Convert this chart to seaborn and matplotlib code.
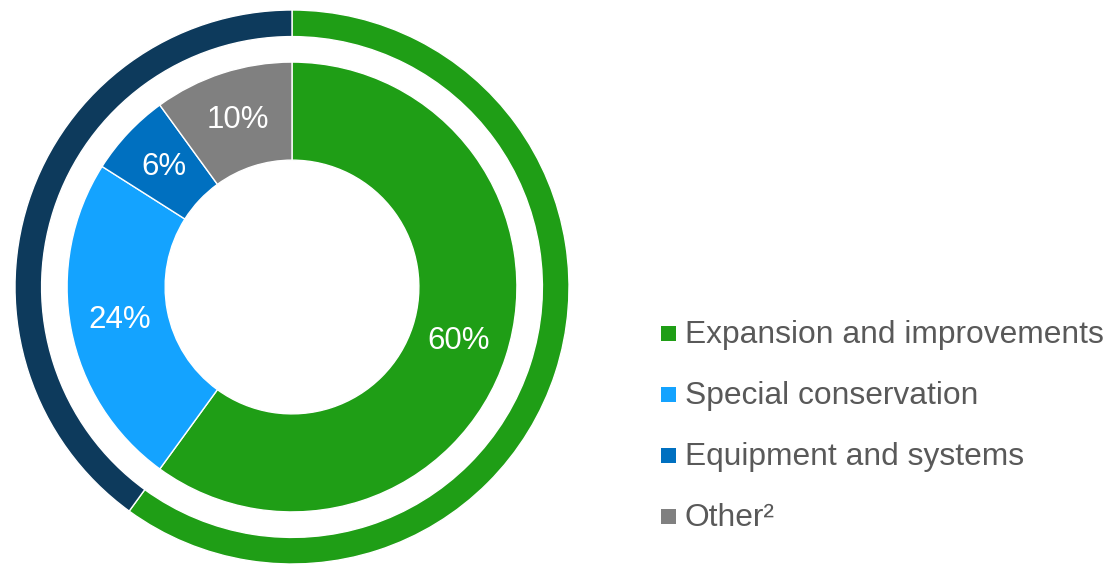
import matplotlib
matplotlib.use("Agg")
import matplotlib.pyplot as plt
from matplotlib.patches import Rectangle
import seaborn as sns

# Spending breakdown (inner ring) and the share it represents (outer ring)
categories = ["Expansion and improvements", "Special conservation",
              "Equipment and systems", "Other\u00b2"]
shares = [60, 24, 6, 10]
cat_colors = ["#1f9e16", "#14a3ff", "#0070c0", "#808080"]

outer_shares = [60, 40]
outer_colors = ["#1f9e16", "#0d3a5c"]

sns.set_theme(style="white")
plt.rcParams["font.family"] = ["Liberation Sans", "DejaVu Sans"]

W, H = 1110, 564
fig = plt.figure(figsize=(W / 100, H / 100), dpi=100)
fig.patch.set_facecolor("white")

# Pie axes: centre at (292, 287) px from top-left, radius 277 px
cx, cy, R = 292, 287, 277
ax = fig.add_axes([(cx - R) / W, (H - cy - R) / H, 2 * R / W, 2 * R / H])
ax.set_xlim(-1, 1)
ax.set_ylim(-1, 1)
ax.set_aspect("equal")
ax.axis("off")

# Outer thin ring
ax.pie(outer_shares, colors=outer_colors, radius=1.0, startangle=90,
       counterclock=False,
       wedgeprops=dict(width=0.096, edgecolor="white", linewidth=1))

# Inner donut with percentage labels
inner_r = 0.812
wedges, _, autotexts = ax.pie(
    shares, colors=cat_colors, radius=inner_r, startangle=90,
    counterclock=False, autopct="%d%%", pctdistance=0.78,
    wedgeprops=dict(width=inner_r - 0.458, edgecolor="white", linewidth=1),
    textprops=dict(color="white", fontsize=22.5))
ax.set_xlim(-1, 1)
ax.set_ylim(-1, 1)

# Legend drawn as coloured squares with labels
sq = 15
baselines = [343, 404, 465, 526]
for name, col, base in zip(categories, cat_colors, baselines):
    mid = base - 10
    fig.patches.append(Rectangle((661 / W, (H - mid - sq / 2) / H),
                                 sq / W, sq / H, transform=fig.transFigure,
                                 facecolor=col, edgecolor="none"))
    fig.text(685 / W, (H - base) / H, name, fontsize=22.9, color="#595959",
             ha="left", va="baseline")

fig.savefig("out.png", dpi=100, facecolor="white")
